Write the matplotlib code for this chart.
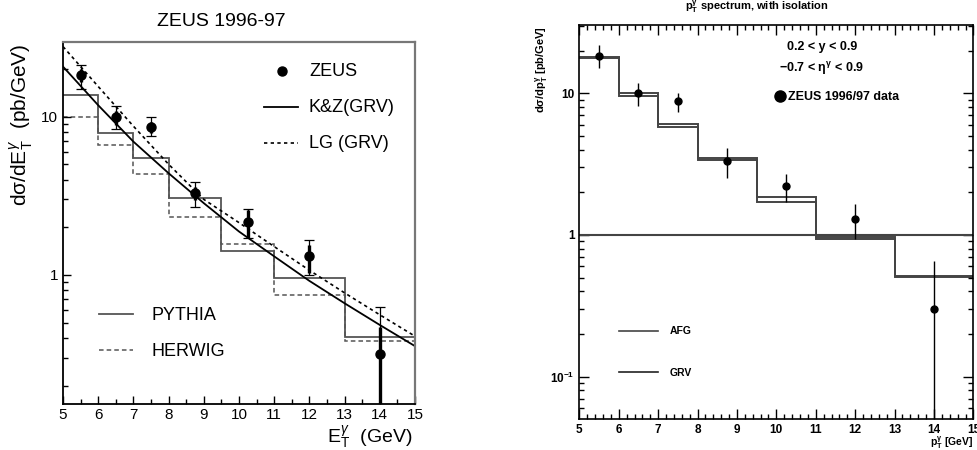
import matplotlib
matplotlib.use("Agg")
import matplotlib.pyplot as plt
from matplotlib.ticker import LogLocator, FixedLocator, MultipleLocator, NullFormatter, FixedFormatter
import numpy as np

plt.rcParams['font.family'] = ['Liberation Sans', 'DejaVu Sans']
plt.rcParams['mathtext.fontset'] = 'custom'
plt.rcParams['mathtext.rm'] = 'Liberation Sans'
plt.rcParams['mathtext.it'] = 'Liberation Sans:italic'
plt.rcParams['mathtext.bf'] = 'Liberation Sans:bold'

# ---------------- data ----------------
data_x = [5.5, 6.5, 7.5, 8.75, 10.25, 12.0, 14.0]
# left panel (ZEUS)
zeus_y = [18.3, 9.88, 8.65, 3.28, 2.17, 1.32, 0.315]
stat_lo = [16.5, 8.87, 7.93, 2.98, 1.71, 1.03, 0.05]
stat_hi = [20.0, 10.8, 9.3, 3.61, 2.57, 1.55, 0.47]
tot_lo = [15.0, 8.33, 7.59, 2.70, 1.71, 1.00, 0.05]
tot_hi = [21.3, 11.6, 9.9, 3.85, 2.60, 1.66, 0.63]

bin_edges = [5, 6, 7, 8, 9.5, 11, 13, 15]
pythia = [13.7, 7.92, 5.44, 3.05, 1.42, 0.953, 0.404]
herwig = [10.0, 6.62, 4.36, 2.32, 1.56, 0.748, 0.385]

curve_x = [5, 6, 7, 8, 9, 10, 11, 12, 13, 14, 15]
kz_grv = [20.7, 11.8, 6.95, 4.39, 2.84, 1.88, 1.31, 0.917, 0.662, 0.483, 0.355]
lg_grv = [27.7, 15.5, 8.7, 5.0, 3.0, 2.14, 1.51, 1.07, 0.77, 0.56, 0.41]

# right panel
r_y = [18.4, 10.0, 8.78, 3.33, 2.2, 1.30, 0.30]
r_lo = [15.0, 8.18, 7.34, 2.54, 1.70, 0.94, 0.04]
r_hi = [21.9, 11.8, 10.1, 4.09, 2.70, 1.65, 0.66]
afg = [17.9, 10.0, 6.05, 3.48, 1.84, 0.968, 0.513]
grv = [17.6, 9.6, 5.79, 3.38, 1.72, 0.932, 0.508]

fig = plt.figure(figsize=(9.77, 4.5), dpi=100)

def fx(px): return px / 977
def fy(py): return 1 - py / 450

# ---------------- left panel ----------------
ax = fig.add_axes([0.0645, 0.1022, 0.3603, 0.8044])
ax.set_yscale('log')
ax.set_xlim(5, 15)
ax.set_ylim(0.153, 29.6)

ax.stairs(pythia, bin_edges, color='#555555', lw=1.3, baseline=None)
ax.stairs(herwig, bin_edges, color='#555555', lw=1.1, ls=(0, (3, 2)), baseline=None)
ax.plot(curve_x, kz_grv, color='black', lw=1.3)
ax.plot(curve_x, lg_grv, color='black', lw=1.2, ls=(0, (2, 2)))

zy = np.array(zeus_y)
ax.errorbar(data_x, zy, yerr=[zy - np.array(tot_lo), np.array(tot_hi) - zy], fmt='none',
            ecolor='black', elinewidth=0.9, capsize=3.5, capthick=0.9)
ax.errorbar(data_x, zy, yerr=[zy - np.array(stat_lo), np.array(stat_hi) - zy], fmt='none',
            ecolor='black', elinewidth=2.4, capsize=0)
ax.plot(data_x, zy, 'o', color='black', ms=6.5)

ax.set_xticks(range(5, 16))
ax.xaxis.set_minor_locator(MultipleLocator(0.5))
ax.yaxis.set_major_locator(FixedLocator([1, 10]))
ax.yaxis.set_major_formatter(FixedFormatter(['1', '10']))
ax.yaxis.set_minor_locator(LogLocator(base=10, subs=np.arange(2, 10)))
ax.yaxis.set_minor_formatter(NullFormatter())
ax.tick_params(which='both', direction='in', top=False, right=False, labelsize=11)
ax.tick_params(which='major', length=6, width=1)
ax.tick_params(which='minor', length=3.5, width=1)
ax.tick_params(axis='x', pad=3)
for s in ['left', 'bottom']:
    ax.spines[s].set_color('black')
    ax.spines[s].set_linewidth(1.3)
for s in ['top', 'right']:
    ax.spines[s].set_color('#777777')
    ax.spines[s].set_linewidth(1.6)

fig.text(fx(221.7), fy(21.7), 'ZEUS 1996-97', ha='center', va='center', fontsize=14)
fig.text(fx(21.7), fy(125), r'd$\mathrm{\sigma}$/dE$_\mathrm{T}^{\gamma}$  (pb/GeV)',
         rotation=90, ha='center', va='center', fontsize=15)
fig.text(fx(413), fy(437), r'E$_\mathrm{T}^{\gamma}$  (GeV)', ha='right', va='center', fontsize=14)

# legend left
fig.lines.append(plt.Line2D([fx(281.7)], [fy(71)], marker='o', color='black', ms=6.5, transform=fig.transFigure))
fig.text(fx(309), fy(72), 'ZEUS', ha='left', va='center', fontsize=13)
fig.lines.append(plt.Line2D([fx(264), fx(298)], [fy(107.3)] * 2, color='black', lw=1.3, transform=fig.transFigure))
fig.text(fx(309), fy(108), 'K&Z(GRV)', ha='left', va='center', fontsize=13)
fig.lines.append(plt.Line2D([fx(264), fx(298)], [fy(143.3)] * 2, color='black', lw=1.2, ls=(0, (2, 2)), transform=fig.transFigure))
fig.text(fx(309), fy(144), 'LG (GRV)', ha='left', va='center', fontsize=13)
fig.lines.append(plt.Line2D([fx(99), fx(133)], [fy(314)] * 2, color='#555555', lw=1.3, transform=fig.transFigure))
fig.text(fx(151.7), fy(315), 'PYTHIA', ha='left', va='center', fontsize=13)
fig.lines.append(plt.Line2D([fx(99), fx(133)], [fy(350)] * 2, color='#555555', lw=1.1, ls=(0, (3, 2)), transform=fig.transFigure))
fig.text(fx(151.7), fy(351), 'HERWIG', ha='left', va='center', fontsize=13)

# ---------------- right panel ----------------
bx = fig.add_axes([0.593, 0.0689, 0.4033, 0.8756])
bx.set_yscale('log')
bx.set_xlim(5, 15)
bx.set_ylim(0.0503, 30.3)

bx.axhline(1.0, color='#444444', lw=1.5)
bx.stairs(afg, bin_edges, color='#444444', lw=1.4, baseline=None)
bx.stairs(grv, bin_edges, color='#444444', lw=1.4, baseline=None)

ry = np.array(r_y)
bx.errorbar(data_x, ry, yerr=[ry - np.array(r_lo), np.array(r_hi) - ry], fmt='o', color='black',
            ms=5, elinewidth=1.0, capsize=0)

bx.set_xticks(range(5, 16))
bx.xaxis.set_minor_locator(MultipleLocator(0.2))
bx.yaxis.set_major_locator(FixedLocator([0.1, 1, 10]))
bx.yaxis.set_major_formatter(FixedFormatter([r'$\mathbf{10^{-1}}$', '1', '10']))
bx.yaxis.set_minor_locator(LogLocator(base=10, subs=np.arange(2, 10)))
bx.yaxis.set_minor_formatter(NullFormatter())
bx.tick_params(which='both', direction='in', top=True, right=True, labelsize=8.5)
bx.tick_params(which='major', length=7, width=1)
bx.tick_params(which='minor', length=3.5, width=1)
for lab in bx.get_xticklabels() + bx.get_yticklabels():
    lab.set_fontweight('bold')
for s in bx.spines.values():
    s.set_linewidth(1.2)

fig.text(fx(756.7), fy(7), r'$\mathbf{p_T^{\gamma}}$ spectrum, with isolation', ha='center', va='center',
         fontsize=8, fontweight='bold')
fig.text(fx(541.7), fy(70), r'd$\mathbf{\sigma}$/d$\mathbf{p_T^{\gamma}}$ [pb/GeV]', rotation=90, ha='center',
         va='center', fontsize=8, fontweight='bold')
fig.text(fx(973), fy(443), r'$\mathbf{p_T^{\gamma}}$ [GeV]', ha='right', va='center', fontsize=7.5, fontweight='bold')

fig.text(fx(822), fy(46.7), '0.2 < y < 0.9', ha='center', va='center', fontsize=9, fontweight='bold')
fig.text(fx(821), fy(69), r'−0.7 < $\mathbf{\eta^{\gamma}}$ < 0.9', ha='center', va='center', fontsize=9, fontweight='bold')
fig.lines.append(plt.Line2D([fx(780)], [fy(96.3)], marker='o', color='black', ms=8, transform=fig.transFigure))
fig.text(fx(787.5), fy(96.5), 'ZEUS 1996/97 data', ha='left', va='center', fontsize=9, fontweight='bold')

fig.lines.append(plt.Line2D([fx(619), fx(658)], [fy(331)] * 2, color='#444444', lw=1.2, transform=fig.transFigure))
fig.text(fx(670), fy(331), 'AFG', ha='left', va='center', fontsize=7.5, fontweight='bold')
fig.lines.append(plt.Line2D([fx(619), fx(658)], [fy(372)] * 2, color='#222222', lw=1.2, transform=fig.transFigure))
fig.text(fx(670), fy(373), 'GRV', ha='left', va='center', fontsize=7.5, fontweight='bold')

fig.savefig('out.png', dpi=100)
